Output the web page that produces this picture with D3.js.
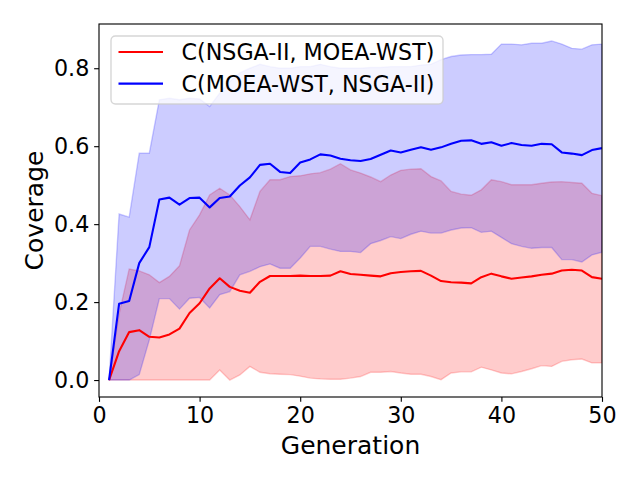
<!DOCTYPE html>
<html>
<head>
<meta charset="utf-8">
<script src="https://cdn.jsdelivr.net/npm/d3@7"></script>
<style>
  html, body { margin: 0; padding: 0; background: #fff; }
  svg { display: block; font-family: "DejaVu Sans", sans-serif; }
</style>
</head>
<body>
<svg id="chart" width="640" height="480"></svg>
<script>
// ---- data ----
const generations = d3.range(1, 51);

const redLabel = "C(NSGA-II, MOEA-WST)";
const blueLabel = "C(MOEA-WST, NSGA-II)";

const redMean = [0, 0.074, 0.123, 0.128, 0.111, 0.109, 0.117, 0.132, 0.172, 0.197,
  0.235, 0.261, 0.239, 0.229, 0.224, 0.252, 0.267, 0.267, 0.267, 0.268,
  0.267, 0.267, 0.268, 0.279, 0.272, 0.270, 0.268, 0.266, 0.274, 0.277,
  0.279, 0.280, 0.268, 0.254, 0.251, 0.250, 0.248, 0.264, 0.273, 0.266,
  0.260, 0.263, 0.266, 0.270, 0.273, 0.281, 0.283, 0.281, 0.264, 0.260];

const redUpper = [0, 0.17, 0.285, 0.280, 0.270, 0.250, 0.266, 0.293, 0.385, 0.424,
  0.475, 0.492, 0.475, 0.445, 0.411, 0.484, 0.514, 0.514, 0.522, 0.524,
  0.529, 0.532, 0.541, 0.555, 0.539, 0.531, 0.521, 0.509, 0.526, 0.538,
  0.541, 0.542, 0.522, 0.511, 0.484, 0.477, 0.474, 0.488, 0.514, 0.509,
  0.501, 0.501, 0.501, 0.505, 0.508, 0.509, 0.507, 0.505, 0.479, 0.473];

const redLower = [0, 0, 0, 0, 0, 0, 0, 0, 0, 0,
  0, 0.026, 0, 0.013, 0.035, 0.020, 0.016, 0.015, 0.014, 0.010,
  0.005, 0.003, 0.002, 0.002, 0.005, 0.009, 0.020, 0.020, 0.022, 0.018,
  0.015, 0.015, 0.009, 0.001, 0.018, 0.021, 0.021, 0.033, 0.026, 0.018,
  0.016, 0.022, 0.029, 0.037, 0.035, 0.048, 0.052, 0.054, 0.044, 0.044];

const blueMean = [0, 0.196, 0.203, 0.300, 0.341, 0.463, 0.468, 0.450, 0.467, 0.468,
  0.443, 0.467, 0.471, 0.499, 0.520, 0.552, 0.555, 0.534, 0.531, 0.558,
  0.566, 0.579, 0.576, 0.568, 0.564, 0.562, 0.567, 0.578, 0.589, 0.584,
  0.591, 0.597, 0.591, 0.597, 0.606, 0.614, 0.615, 0.606, 0.610, 0.601,
  0.608, 0.603, 0.601, 0.606, 0.605, 0.584, 0.581, 0.577, 0.590, 0.595];

const blueUpper = [0, 0.426, 0.418, 0.582, 0.582, 0.719, 0.723, 0.719, 0.723, 0.721,
  0.702, 0.736, 0.766, 0.788, 0.800, 0.810, 0.804, 0.800, 0.800, 0.804,
  0.804, 0.810, 0.804, 0.800, 0.800, 0.800, 0.802, 0.802, 0.804, 0.804,
  0.804, 0.808, 0.810, 0.822, 0.830, 0.834, 0.835, 0.835, 0.836, 0.862,
  0.862, 0.860, 0.864, 0.864, 0.870, 0.862, 0.851, 0.849, 0.860, 0.862];

const blueLower = [0, 0, 0, 0.014, 0.103, 0.209, 0.209, 0.182, 0.210, 0.212,
  0.185, 0.219, 0.227, 0.270, 0.279, 0.291, 0.298, 0.287, 0.287, 0.313,
  0.343, 0.343, 0.336, 0.330, 0.330, 0.327, 0.350, 0.358, 0.368, 0.363,
  0.374, 0.382, 0.377, 0.377, 0.385, 0.390, 0.391, 0.379, 0.382, 0.366,
  0.350, 0.343, 0.338, 0.340, 0.340, 0.309, 0.309, 0.303, 0.321, 0.328];

const xTicks = [0, 10, 20, 30, 40, 50];
const yTicks = [0.0, 0.2, 0.4, 0.6, 0.8];
const xLabel = "Generation";
const yLabel = "Coverage";

// ---- layout ----
const W = 640, H = 480;
const L = 99, R = 602, T = 24, B = 397;
const pt = 100 / 72;

const svg = d3.select("#chart");

const x = d3.scaleLinear().domain([0, 50]).range([L, R]);
const allVals = [].concat(redUpper, redLower, blueUpper, blueLower, redMean, blueMean);
const vmin = d3.min(allVals), vmax = d3.max(allVals);
const pad = (vmax - vmin) * 0.05;
const y = d3.scaleLinear().domain([vmin - pad, vmax + pad]).range([B, T]);

svg.append("defs").append("clipPath").attr("id", "clip")
  .append("rect").attr("x", L).attr("y", T).attr("width", R - L).attr("height", B - T);

const plot = svg.append("g").attr("clip-path", "url(#clip)");

function band(upper, lower) {
  return d3.area()
    .x((d, i) => x(generations[i]))
    .y0((d, i) => y(lower[i]))
    .y1((d, i) => y(upper[i]))(upper);
}
function line(vals) {
  return d3.line()
    .x((d, i) => x(generations[i]))
    .y(d => y(d))(vals);
}

// fills (red first, then blue on top)
plot.append("path").attr("d", band(redUpper, redLower))
  .attr("fill", "red").attr("fill-opacity", 0.2)
  .attr("stroke", "red").attr("stroke-opacity", 0.2).attr("stroke-width", 1 * pt);
plot.append("path").attr("d", band(blueUpper, blueLower))
  .attr("fill", "blue").attr("fill-opacity", 0.2)
  .attr("stroke", "blue").attr("stroke-opacity", 0.2).attr("stroke-width", 1 * pt);

// mean lines
plot.append("path").attr("d", line(redMean))
  .attr("fill", "none").attr("stroke", "red").attr("stroke-width", 1.5 * pt)
  .attr("stroke-linejoin", "round");
plot.append("path").attr("d", line(blueMean))
  .attr("fill", "none").attr("stroke", "blue").attr("stroke-width", 1.5 * pt)
  .attr("stroke-linejoin", "round");

// axes
const tickLen = 3.5 * pt;
const fs = 16 * pt;

const xAxis = svg.append("g").attr("transform", `translate(0,${B})`)
  .call(d3.axisBottom(x).tickValues(xTicks).tickFormat(d3.format("d"))
    .tickSize(tickLen).tickPadding(3.5 * pt));
const yAxis = svg.append("g").attr("transform", `translate(${L},0)`)
  .call(d3.axisLeft(y).tickValues(yTicks).tickFormat(d3.format(".1f"))
    .tickSize(tickLen).tickPadding(3.5 * pt));

[xAxis, yAxis].forEach(a => {
  a.select(".domain").remove();
  a.selectAll(".tick line").attr("stroke", "#000").attr("stroke-width", 0.8 * pt);
  a.selectAll(".tick text").attr("fill", "#000")
    .style("font-family", "DejaVu Sans").style("font-size", fs + "px");
});

// frame (spines)
svg.append("rect").attr("x", L).attr("y", T).attr("width", R - L).attr("height", B - T)
  .attr("fill", "none").attr("stroke", "#000").attr("stroke-width", 0.8 * pt);

// axis labels
svg.append("text").attr("x", (L + R) / 2).attr("y", 453.5)
  .attr("text-anchor", "middle").style("font-size", (18 * pt) + "px")
  .attr("fill", "#000").text(xLabel);
svg.append("text").attr("transform", `translate(43.3,${(T + B) / 2}) rotate(-90)`)
  .attr("text-anchor", "middle").style("font-size", (18 * pt) + "px")
  .attr("fill", "#000").text(yLabel);

// legend
const leg = svg.append("g");
leg.append("rect").attr("x", 111).attr("y", 36).attr("width", 332).attr("height", 68)
  .attr("rx", 4.4).attr("ry", 4.4)
  .attr("fill", "#fff").attr("fill-opacity", 0.8)
  .attr("stroke", "#ccc").attr("stroke-opacity", 0.8).attr("stroke-width", 1 * pt);

const legendItems = [
  { label: redLabel, color: "red", cy: 52, base: 60.3 },
  { label: blueLabel, color: "blue", cy: 83.6, base: 91.9 }
];
legendItems.forEach(it => {
  leg.append("line").attr("x1", 118.5).attr("x2", 163).attr("y1", it.cy).attr("y2", it.cy)
    .attr("stroke", it.color).attr("stroke-width", 1.5 * pt);
  leg.append("text").attr("x", 181.5).attr("y", it.base)
    .style("font-size", fs + "px").attr("fill", "#000").text(it.label);
});
</script>
</body>
</html>
